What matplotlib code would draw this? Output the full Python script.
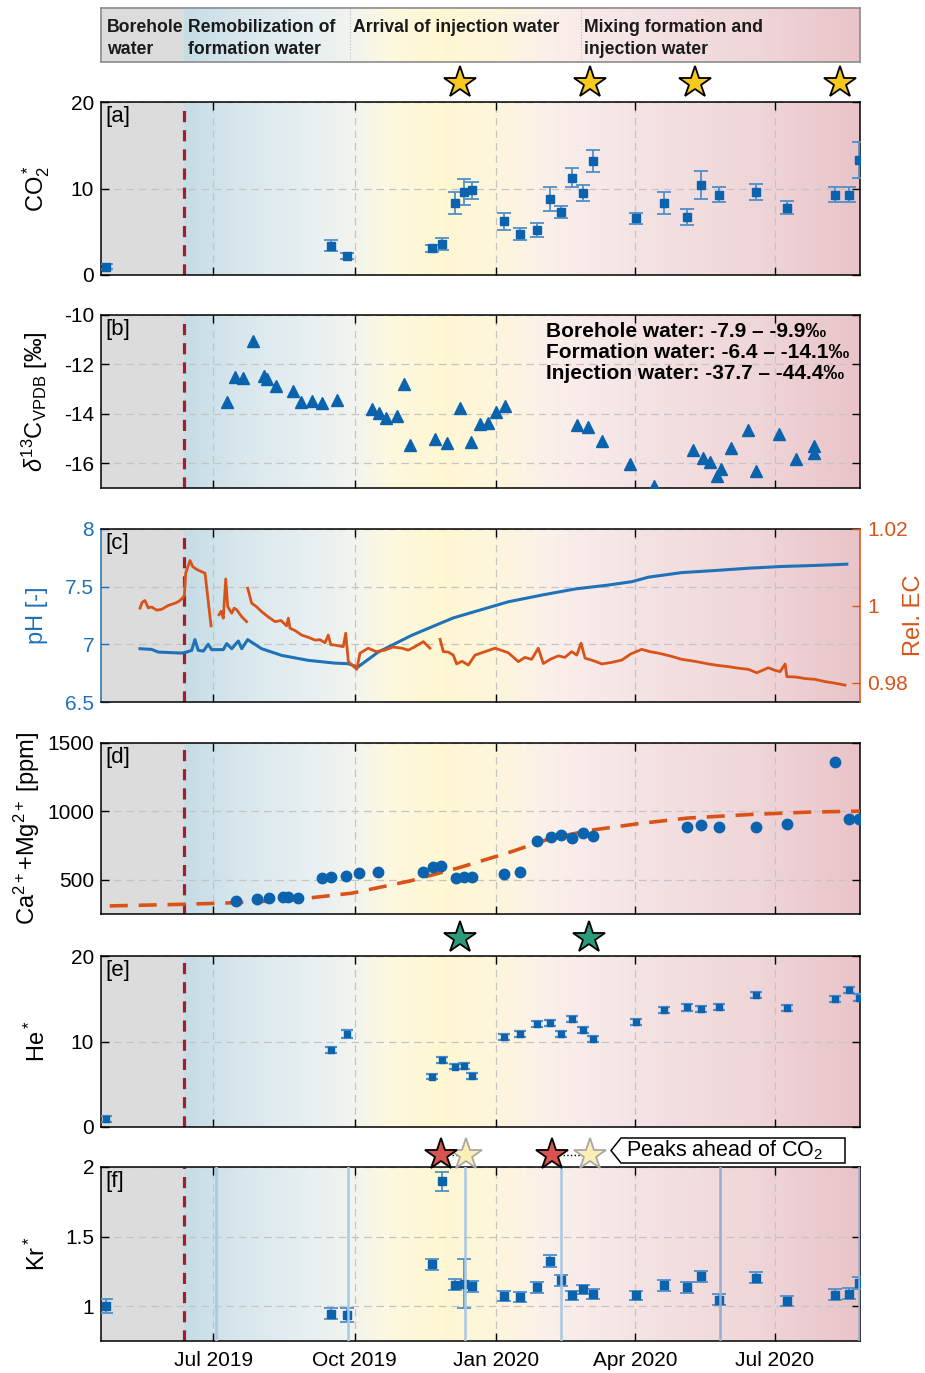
import datetime as dt
import numpy as np
import matplotlib
matplotlib.use("Agg")
import matplotlib.pyplot as plt
import matplotlib.dates as mdates
from matplotlib.colors import LinearSegmentedColormap
from matplotlib.patches import Polygon
from matplotlib.ticker import FormatStrFormatter

plt.rcParams["font.family"] = ["Liberation Sans", "DejaVu Sans"]
plt.rcParams["mathtext.fontset"] = "custom"
plt.rcParams["mathtext.rm"] = "Liberation Sans"
plt.rcParams["mathtext.it"] = "Liberation Sans:italic"
plt.rcParams["mathtext.bf"] = "Liberation Sans:bold"

# all times are days after 1 Jul 2019
t0 = mdates.date2num(dt.datetime(2019, 7, 1))
start_day, end_day = -73.3, 421.4
injection_day = -19.0

# phases (header)
phase_labels = ["Borehole\nwater", "Remobilization of\nformation water",
                "Arrival of injection water", "Mixing formation and\ninjection water"]
phase_label_days = [-69.4, -16.6, 90.9, 241.5]
phase_divider_days = [89.0, 239.6]

# sample dates (CO2*, He*, Kr*)
sample_days = [-70.1, 76.6, 86.8, 142.5, 149.0, 157.6, 163.4, 168.6, 189.5, 199.5,
               210.8, 219.6, 226.5, 233.6, 240.7, 247.7, 275.7, 293.6, 308.7, 317.7,
               329.6, 353.7, 373.9, 405.4, 414.4, 420.5]
co2 = [0.96, 3.4, 2.2, 3.1, 3.6, 8.3, 9.6, 9.8, 6.2, 4.7, 5.2, 8.8, 7.3, 11.25, 9.45,
       13.2, 6.55, 8.3, 6.7, 10.4, 9.3, 9.6, 7.8, 9.3, 9.3, 13.3]
co2_err = [0.3, 0.6, 0.4, 0.4, 0.7, 1.3, 1.5, 1.0, 1.0, 0.7, 0.8, 1.4, 0.7, 1.1, 0.9,
           1.25, 0.6, 1.3, 0.9, 1.6, 0.85, 0.9, 0.7, 0.85, 0.85, 2.1]
he = [0.94, 9.0, 10.88, 5.9, 7.84, 7.05, 7.13, 5.96, 10.56, 10.88, 12.0, 12.2, 10.84,
      12.6, 11.35, 10.3, 12.24, 13.68, 14.0, 13.77, 14.07, 15.44, 13.88, 14.97, 16.02, 15.12]
he_err = [0.3, 0.4, 0.45, 0.3, 0.3, 0.3, 0.3, 0.3, 0.35, 0.35, 0.35, 0.35, 0.35, 0.35,
          0.35, 0.35, 0.35, 0.35, 0.4, 0.35, 0.35, 0.35, 0.35, 0.4, 0.4, 0.4]
kr = [1.0, 0.945, 0.94, 1.30, 1.896, 1.154, 1.161, 1.144, 1.072, 1.065, 1.135, 1.324,
      1.185, 1.077, 1.12, 1.087, 1.077, 1.149, 1.137, 1.216, 1.048, 1.205, 1.036, 1.084,
      1.089, 1.168]
kr_err = [0.05, 0.04, 0.05, 0.04, 0.065, 0.04, 0.175, 0.04, 0.035, 0.035, 0.04, 0.045,
          0.04, 0.035, 0.035, 0.035, 0.035, 0.04, 0.04, 0.04, 0.04, 0.04, 0.035, 0.04,
          0.04, 0.045]
kr_line_days = [1.6, 87.5, 164.0, 226.8, 330.4, 420.8]

# d13C
d13c_days = [8.7, 14.1, 19.3, 25.7, 32.8, 34.7, 40.5, 52.1, 57.2, 64.3, 70.7, 80.7,
             103.3, 107.8, 112.6, 119.7, 124.2, 128.0, 144.1, 152.2, 160.8, 167.9,
             173.4, 178.9, 184.4, 189.8, 237.1, 243.9, 253.2, 271.8, 287.3, 312.4,
             319.2, 323.7, 328.5, 330.8, 337.2, 348.4, 353.3, 368.7, 379.7, 391.6, 391.6]
d13c = [-13.51, -12.50, -12.56, -11.04, -12.46, -12.59, -12.86, -13.08, -13.51, -13.48,
        -13.58, -13.42, -13.82, -13.98, -14.18, -14.09, -12.81, -15.26, -15.03, -15.17,
        -13.75, -15.13, -14.43, -14.35, -13.91, -13.68, -14.47, -14.55, -15.10, -16.03,
        -16.91, -15.47, -15.80, -15.94, -16.52, -16.25, -15.40, -14.66, -16.32, -14.82,
        -15.83, -15.30, -15.57]
d13c_text = ["Borehole water: -7.9 \u2013 -9.9\u2030",
             "Formation water: -6.4 \u2013 -14.1\u2030",
             "Injection water: -37.7 \u2013 -44.4\u2030"]

# pH and relative EC logger
ph_days = [-47.9, -40.3, -36.0, -20.7, -17.5, -14.2, -12.1, -9.9, -6.6, -3.4, -1.2,
           6.4, 8.6, 11.9, 16.2, 18.4, 22.3, 31.4, 44.5, 61.8, 79.2, 87.9, 94.0, 107.4,
           129.2, 143.3, 156.3, 177.0, 192.2, 214.0, 235.7, 257.4, 272.6, 283.4, 305.2,
           326.9, 348.6, 370.4, 392.1, 412.8]
ph = [6.962, 6.956, 6.933, 6.924, 6.933, 6.948, 7.041, 6.948, 6.942, 7.0, 6.954, 6.954,
      7.006, 6.962, 7.029, 6.962, 7.041, 6.962, 6.904, 6.861, 6.837, 6.832, 6.802, 6.933,
      7.078, 7.157, 7.229, 7.31, 7.369, 7.427, 7.48, 7.514, 7.543, 7.582, 7.622, 7.64,
      7.66, 7.675, 7.684, 7.695]
ec_days = [-47.9, -46.5, -44.7, -42.5, -40.3, -37.0, -33.8, -29.5, -25.1, -22.5, -20.3,
           -19.0, -18.1, -15.3, -13.5, -12.1, -10.0, -7.7, -5.5, -4.0, -1.6, np.nan,
           3.6, 5.0, 6.4, 8.0, 9.3, 11.9, 13.5, 15.1, 18.4, 21.6, np.nan,
           22.3, 24.9, 28.0, 31.4, 35.5, 40.1, 44.0, 47.7, 48.8, 49.9, 53.5, 57.5, 62.0,
           66.2, 69.5, 72.7, 74.8, 76.5, 79.2, 84.6, 86.2, 87.9, 93.4, 95.5, 100.9, 106.0,
           111.8, 117.0, 122.7, 127.0, 131.4, 136.8, 141.1, np.nan,
           147.7, 149.8, 153.0, 156.3, 158.5, 162.0, 166.1, 170.5, 177.0, 183.5, 188.0,
           192.2, 198.7, 203.0, 207.4, 211.7, 215.0, 220.0, 224.8, 229.0, 233.5, 236.8,
           239.6, 242.2, 248.0, 253.1, 259.5, 266.1, 272.0, 279.1, 284.5, 290.0, 297.5,
           305.2, 313.5, 322.6, 329.0, 335.6, 342.0, 348.6, 354.1, 361.7, 365.5, 369.3,
           372.6, 373.7, 379.5, 385.6, 392.0, 398.6, 405.0, 411.6]
ec = [0.9994, 1.0009, 1.0014, 0.9995, 0.9997, 0.9989, 0.9991, 1.0001, 1.0007, 1.0012,
      1.002, 1.0026, 1.0085, 1.0118, 1.0102, 1.0098, 1.0093, 1.0089, 1.0085, 1.0033,
      0.9948, np.nan,
      0.9977, 0.9986, 0.9968, 1.007, 0.9998, 0.9981, 0.9994, 0.999, 0.9972, 0.9959, np.nan,
      1.0046, 1.0007, 0.9998, 0.9985, 0.9972, 0.9959, 0.9962, 0.9948, 0.9968, 0.9942,
      0.9935, 0.9924, 0.9918, 0.9911, 0.9912, 0.9904, 0.9924, 0.9899, 0.9898, 0.9894,
      0.9929, 0.9855, 0.9835, 0.9877, 0.989, 0.9881, 0.9885, 0.9893, 0.989, 0.9885,
      0.9894, 0.9907, 0.989, np.nan,
      0.9913, 0.9881, 0.9880, 0.9872, 0.9849, 0.9856, 0.9846, 0.9872, 0.9881, 0.989,
      0.9884, 0.9878, 0.9855, 0.9866, 0.9861, 0.989, 0.985, 0.9862, 0.987, 0.9866,
      0.9881, 0.9872, 0.9903, 0.9864, 0.9857, 0.9849, 0.9853, 0.9859, 0.9875, 0.9887,
      0.9881, 0.9877, 0.9870, 0.9861, 0.9856, 0.9849, 0.9845, 0.9842, 0.9838, 0.9835,
      0.9826, 0.9839, 0.9833, 0.9829, 0.9849, 0.9816, 0.9815, 0.9811, 0.9809, 0.9803,
      0.9799, 0.9794]

# Ca + Mg
camg_days = [14.5, 28.3, 36.0, 45.6, 48.9, 55.3, 70.7, 76.5, 86.2, 94.6, 107.4, 136.7,
             142.8, 148.6, 158.0, 163.4, 168.6, 189.5, 199.5, 210.8, 219.8, 226.5, 233.6,
             240.7, 247.7, 308.5, 317.9, 329.5, 353.6, 373.5, 405.4, 414.4, 420.5]
camg = [345, 358, 370, 375, 375, 370, 512, 522, 529, 549, 559, 554, 591, 601, 510, 522,
        522, 546, 554, 787, 816, 824, 804, 841, 821, 885, 904, 885, 885, 910, 1362, 946, 946]
camg_fit_days = [-67.6, -19.4, 16.0, 51.2, 90.1, 128.7, 160.8, 193.0, 218.7, 244.5,
                 276.7, 308.9, 350.7, 389.3, 421.4]
camg_fit = [309, 321, 333, 353, 402, 493, 591, 701, 799, 860, 910, 951, 978, 995, 1002]

# stars
co2_star_days = [160.7, 245.4, 313.9, 408.4]
he_star_days = [160.8, 244.5]
kr_peak_days = [148.0, 220.4]
kr_co2_days = [164.7, 245.4]

# ---- styling ----
BLUE = "#0b62ad"
ERR = "#4f8fcb"
ORANGE = "#d95319"
PH_BLUE = "#1f72b8"
RED = "#a51c30"
GRAY_BG = "#dcdcdc"
bg_nodes = [(-19, "#c6dde6"), (20, "#d9e8ed"), (60, "#e6eff2"), (90, "#f2f4ee"),
            (115, "#fdf8df"), (150, "#fff7d2"), (185, "#fdf6dc"), (215, "#fbf1e9"),
            (245, "#f8eaea"), (300, "#f3dfe1"), (360, "#efd5d8"), (421.4, "#e9c4c9")]
bg_cmap = LinearSegmentedColormap.from_list(
    "phase", [((d + 19) / (421.4 + 19), c) for d, c in bg_nodes])

W, H = 925, 1373
fig = plt.figure(figsize=(W / 100, H / 100), dpi=100)


def add_ax(top, bottom, sharex=None):
    return fig.add_axes([101 / W, 1 - bottom / H, 759 / W, (bottom - top) / H], sharex=sharex)


def days(d):
    return t0 + np.asarray(d, dtype=float)


def paint(ax, y0, y1):
    ax.axvspan(days(start_day), days(injection_day), color=GRAY_BG, lw=0, zorder=0)
    ax.imshow(np.linspace(0, 1, 600)[None, :], cmap=bg_cmap, aspect="auto",
              extent=[days(injection_day), days(end_day), y0, y1], zorder=0,
              interpolation="bilinear")
    ax.set_xlim(days(start_day), days(end_day))
    ax.set_ylim(y0, y1)


def style(ax, yticks, label, label_x, tag, bottom_labels=False):
    ax.set_yticks(yticks)
    ax.yaxis.set_major_formatter(FormatStrFormatter("%g"))
    ax.xaxis.set_major_locator(mdates.MonthLocator(bymonth=[1, 4, 7, 10]))
    ax.xaxis.set_major_formatter(mdates.DateFormatter("%b %Y"))
    ax.tick_params(direction="in", top=True, right=True, length=6, width=1,
                   labelsize=15, pad=5, labelbottom=bottom_labels)
    ax.grid(True, ls=(0, (6, 4)), color="#c4c4c4", lw=0.9)
    ax.set_axisbelow(True)
    ax.axvline(days(injection_day), color=RED, lw=2.3, ls=(0, (3.5, 2.5)), zorder=2)
    if label:
        ax.set_ylabel(label, fontsize=17)
        ax.yaxis.set_label_coords(label_x, 0.5)
    ax.text(0.006, 0.975, tag, transform=ax.transAxes, fontsize=16, va="top", ha="left")
    for s in ax.spines.values():
        s.set_linewidth(1.1)


def stars(ax, d, yfrac, face, edge="black"):
    ax.plot(days(d), [yfrac] * len(d), ls="none", marker="*", ms=24, mfc=face, mec=edge,
            mew=1.3, transform=ax.get_xaxis_transform(), clip_on=False, zorder=6)


# ---- header ----
hdr = add_ax(8, 62)
paint(hdr, 0, 1)
hdr.set_xticks([])
hdr.set_yticks([])
for s in hdr.spines.values():
    s.set_color("#8c8c8c")
    s.set_linewidth(1.2)
for d in phase_divider_days:
    hdr.axvline(days(d), color="#bdbdbd", lw=0.8, ls=":")
for lab, d in zip(phase_labels, phase_label_days):
    hdr.text(days(d), 0.79, lab, fontsize=12.7, fontweight="bold", va="top", ha="left",
             linespacing=1.38, color="#1a1a1a")

# ---- [a] CO2* ----
ax_a = add_ax(102, 275)
paint(ax_a, 0, 20)
ax_a.errorbar(days(sample_days), co2, yerr=co2_err, fmt="s", ms=5.5, color=BLUE,
              mec=BLUE, ecolor=ERR, elinewidth=1.3, capsize=5, capthick=1.3, zorder=3)
style(ax_a, [0, 10, 20], "CO$_2^*$", -0.064, "[a]")
stars(ax_a, co2_star_days, 1.11, "#f7c81e")

# ---- [b] d13C ----
ax_b = add_ax(315, 488, sharex=ax_a)
paint(ax_b, -17, -10)
ax_b.plot(days(d13c_days), d13c, ls="none", marker="^", ms=8, color=BLUE, zorder=3)
style(ax_b, [-16, -14, -12, -10], r"$\delta^{13}$C$_\mathrm{VPDB}$ [‰]", -0.067, "[b]")
for i, line in enumerate(d13c_text):
    ax_b.text(0.586, 0.905 - i * 0.121, line, transform=ax_b.transAxes, fontsize=15,
              fontweight="bold", va="center", ha="left", zorder=5)

# ---- [c] pH / EC ----
ax_c = add_ax(529, 702, sharex=ax_a)
paint(ax_c, 6.5, 8)
ax_c.plot(days(ph_days), ph, color=PH_BLUE, lw=2.2, zorder=3)
style(ax_c, [6.5, 7, 7.5, 8], "pH [-]", -0.070, "[c]")
ax_c.tick_params(axis="y", right=False, colors=PH_BLUE)
ax_c.yaxis.label.set_color(PH_BLUE)
ax_c.spines["left"].set_color(PH_BLUE)
ax_c.spines["right"].set_visible(False)
ax_c2 = ax_c.twinx()
ax_c2.plot(days(ec_days), ec, color=ORANGE, lw=2.0, zorder=3)
ax_c2.set_ylim(0.975, 1.02)
ax_c2.set_yticks([0.98, 1, 1.02])
ax_c2.yaxis.set_major_formatter(FormatStrFormatter("%g"))
ax_c2.tick_params(axis="y", direction="in", length=6, width=1, labelsize=15, pad=5,
                  colors=ORANGE)
ax_c2.set_ylabel("Rel. EC", fontsize=17, color=ORANGE)
ax_c2.yaxis.set_label_coords(1.057, 0.5)
for side in ["left", "top", "bottom"]:
    ax_c2.spines[side].set_visible(False)
ax_c2.spines["right"].set_color(ORANGE)
ax_c2.spines["right"].set_linewidth(1.1)

# ---- [d] Ca + Mg ----
ax_d = add_ax(743, 914, sharex=ax_a)
paint(ax_d, 250, 1500)
ax_d.plot(days(camg_fit_days), camg_fit, color=ORANGE, lw=2.6, ls=(0, (5, 3)), zorder=3)
ax_d.plot(days(camg_days), camg, ls="none", marker="o", ms=7.5, color=BLUE, zorder=4)
style(ax_d, [500, 1000, 1500], "Ca$^{2+}$+Mg$^{2+}$ [ppm]", -0.078, "[d]")

# ---- [e] He* ----
ax_e = add_ax(956, 1127, sharex=ax_a)
paint(ax_e, 0, 20)
ax_e.errorbar(days(sample_days), he, yerr=he_err, fmt="s", ms=5, color=BLUE, mec=BLUE,
              ecolor=ERR, elinewidth=1.3, capsize=4.5, capthick=1.6, zorder=3)
style(ax_e, [0, 10, 20], "He$^*$", -0.067, "[e]")
stars(ax_e, he_star_days, 1.105, "#2a9a7a")

# ---- [f] Kr* ----
ax_f = add_ax(1167, 1341, sharex=ax_a)
paint(ax_f, 0.75, 2.0)
ax_f.errorbar(days(sample_days), kr, yerr=kr_err, fmt="s", ms=5.5, color=BLUE,
              mec=BLUE, ecolor=ERR, elinewidth=1.3, capsize=5, capthick=1.3, zorder=3)
for i, d in enumerate(kr_line_days):
    ax_f.axvline(days(d), color="#a6c8e4" if i < 4 else "#98acd0", lw=1.8, zorder=4)
style(ax_f, [1, 1.5, 2], "Kr$^*$", -0.067, "[f]", bottom_labels=True)
ax_f.tick_params(axis="x", pad=7)
for a_, b_ in zip(kr_peak_days, kr_co2_days):
    ax_f.plot(days([a_, b_]), [1.069, 1.069], color="black", lw=1, ls=":",
              transform=ax_f.get_xaxis_transform(), clip_on=False, zorder=5)
stars(ax_f, kr_co2_days, 1.069, "#fbefb5", edge="#a8a8a8")
stars(ax_f, kr_peak_days, 1.069, "#d9544f")

tag = [(611, 1150.5), (621, 1138), (845, 1138), (845, 1163), (621, 1163)]
fig.patches.append(Polygon([(x / W, 1 - y / H) for x, y in tag], closed=True,
                           transform=fig.transFigure, facecolor="white",
                           edgecolor="black", lw=1.1))
fig.text(626 / W, 1 - 1150.5 / H, "Peaks ahead of CO$_2$", fontsize=15.5,
         va="center", ha="left")

fig.savefig("out.png", dpi=100)
